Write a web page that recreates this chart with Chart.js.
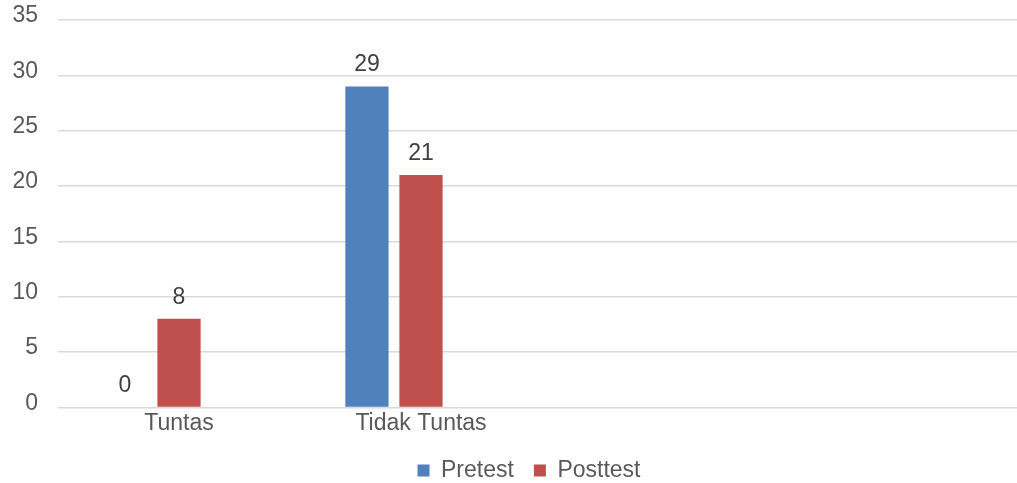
<!DOCTYPE html>
<html>
<head>
<meta charset="utf-8">
<script src="https://cdn.jsdelivr.net/npm/chart.js@4"></script>
<style>
  html, body { margin: 0; padding: 0; background: #fff; overflow: hidden; }
  #wrap { width: 1058px; height: 483px; }
</style>
</head>
<body>
<div id="wrap"><canvas id="chart" width="1058" height="483"></canvas></div>
<script>
// --- DATA ---
const categories = ['Tuntas', 'Tidak Tuntas', '', ''];
const pretest = [0, 29, null, null];
const posttest = [8, 21, null, null];
const emptySeries = [null, null, null, null]; // third (unused) series in the source sheet
const yTicks = [0, 5, 10, 15, 20, 25, 30, 35];

// --- VALUE LABELS ABOVE BARS ---
const valueLabels = {
    id: 'valueLabels',
    afterDatasetsDraw(chart) {
        const ctx = chart.ctx;
        ctx.save();
        ctx.font = '23px "Liberation Sans", Arial, sans-serif';
        ctx.fillStyle = '#404040';
        ctx.textAlign = 'center';
        ctx.textBaseline = 'alphabetic';
        chart.data.datasets.forEach((ds, i) => {
            const meta = chart.getDatasetMeta(i);
            meta.data.forEach((bar, j) => {
                const v = ds.data[j];
                if (v === null || v === undefined) return;
                ctx.fillText(String(v), bar.x, bar.y - 15);
            });
        });
        ctx.restore();
    }
};

// legend is centred on the whole (wider) chart box in the original
const legendNudge = {
    id: 'legendNudge',
    afterLayout(chart) {
        const lg = chart.legend;
        if (!lg) return;
        lg.left += 11;
        lg.right += 11;
    }
};

new Chart(document.getElementById('chart'), {
    type: 'bar',
    data: {
        labels: categories,
        datasets: [{
            label: 'Pretest',
            data: pretest,
            backgroundColor: '#4f81bd'
        }, {
            label: 'Posttest',
            data: posttest,
            backgroundColor: '#c0504d'
        }, {
            label: '',
            data: emptySeries,
            backgroundColor: '#9bbb59'
        }]
    },
    options: {
        responsive: false,
        animation: false,
        layout: { padding: { left: 10, right: 32, top: 20, bottom: -9 } },
        datasets: {
            bar: { categoryPercentage: 0.67, barPercentage: 0.8 }
        },
        scales: {
            x: {
                grid: { display: false, drawTicks: false },
                border: { display: false },
                ticks: {
                    color: '#595959',
                    padding: 2,
                    font: { family: '"Liberation Sans", Arial, sans-serif', size: 23 }
                }
            },
            y: {
                min: 0,
                max: 35,
                afterBuildTicks: axis => { axis.ticks = yTicks.map(v => ({ value: v })); },
                afterFit: axis => {
                    axis.width = 48;
                    axis.paddingTop = 0;
                    axis.paddingBottom = 0;
                },
                grid: { color: '#d9d9d9', lineWidth: 1.5, drawTicks: false },
                border: { display: false },
                ticks: {
                    color: '#595959',
                    padding: 20,
                    labelOffset: -4,
                    font: { family: '"Liberation Sans", Arial, sans-serif', size: 23 }
                }
            }
        },
        plugins: {
            tooltip: { enabled: false },
            legend: {
                position: 'bottom',
                labels: {
                    color: '#595959',
                    boxWidth: 12,
                    boxHeight: 12,
                    padding: 20,
                    font: { family: '"Liberation Sans", Arial, sans-serif', size: 23 },
                    filter: item => item.text !== ''
                }
            }
        }
    },
    plugins: [valueLabels, legendNudge]
});
</script>
</body>
</html>
